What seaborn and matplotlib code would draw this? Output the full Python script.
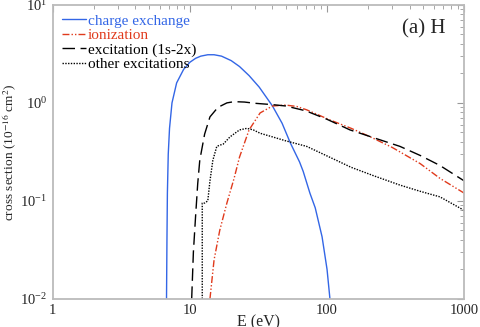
import numpy as np
import pandas as pd
import matplotlib
matplotlib.use("Agg")
import matplotlib.pyplot as plt
import seaborn as sns

# charge exchange
cx_E = [6.75, 6.8, 6.85, 6.95, 7.1, 7.4, 8.0, 9.0, 10.0, 11.0, 12.0, 13.5, 15.0, 17.0, 20.0, 23.0, 27.0, 32.0, 40.0, 47.0, 54.0, 63.0, 67.0, 75.0, 82.0, 92.0, 100.0, 105.0]
cx_s = [0.01, 0.04, 0.12, 0.3, 0.55, 1.0, 1.6, 2.2, 2.6, 2.85, 3.0, 3.1, 3.1, 3.0, 2.7, 2.35, 1.9, 1.45, 0.93, 0.62, 0.39, 0.25, 0.2, 0.12, 0.085, 0.043, 0.02, 0.01]
# ionization
io_E = [14.0, 15.0, 16.5, 18.6, 21.0, 23.0, 27.0, 32.5, 40.0, 50.0, 60.0, 71.0, 105.0, 150.0, 207.0, 300.0, 478.0, 665.0, 1000.0]
io_s = [0.01, 0.025, 0.05, 0.095, 0.17, 0.28, 0.53, 0.79, 0.93, 0.95, 0.92, 0.85, 0.67, 0.55, 0.45, 0.35, 0.24, 0.17, 0.12]
# excitation (1s-2x)
ex_E = [10.3, 10.6, 11.0, 11.4, 11.8, 12.8, 14.0, 16.0, 18.6, 21.0, 25.0, 30.0, 40.0, 50.0, 70.0, 100.0, 147.0, 220.0, 340.0, 480.0, 665.0, 1000.0]
ex_s = [0.01, 0.03, 0.07, 0.15, 0.26, 0.48, 0.72, 0.9, 1.0, 1.03, 1.02, 0.99, 0.96, 0.93, 0.83, 0.68, 0.53, 0.44, 0.36, 0.29, 0.23, 0.16]
# other excitations
ot_E = [12.3, 12.3, 12.8, 13.5, 14.0, 14.7, 15.7, 16.5, 17.5, 19.6, 23.0, 26.0, 29.0, 32.5, 40.0, 50.0, 71.0, 110.0, 150.0, 220.0, 340.0, 480.0, 665.0, 1000.0]
ot_s = [0.01, 0.095, 0.095, 0.1, 0.16, 0.26, 0.36, 0.37, 0.38, 0.45, 0.53, 0.55, 0.53, 0.49, 0.45, 0.41, 0.36, 0.27, 0.22, 0.18, 0.145, 0.125, 0.11, 0.08]

labels = ["charge exchange", "ionization", "excitation (1s-2x)", "other excitations"]
colors = ["#3366e6", "#e03a1c", "black", "black"]
dashes = ["-", (0, (5, 1.5, 1, 1.5, 1, 1.5)), (0, (9, 4)), (0, (1, 1))]

xtick_vals = [1, 10, 100, 1000]
xtick_text = ["1", "10", "100", "1000"]
ytick_vals = [0.01, 0.1, 1, 10]
ytick_text = [r"$\mathregular{10^{-2}}$", r"$\mathregular{10^{-1}}$", r"$\mathregular{10^{0}}$", r"$\mathregular{10^{1}}$"]

sns.set_theme(style="white")
SERIF = "Liberation Serif"
plt.rcParams["font.family"] = [SERIF]
plt.rcParams["mathtext.fontset"] = "stix"

fig = plt.figure(figsize=(4.8, 3.27), dpi=100)
ax = fig.add_axes([0.110, 0.086, 0.857, 0.899])

series = [(cx_E, cx_s), (io_E, io_s), (ex_E, ex_s), (ot_E, ot_s)]
for (E, s), lab, c, ls in zip(series, labels, colors, dashes):
    df = pd.DataFrame({"E": E, "s": s})
    sns.lineplot(data=df, x="E", y="s", ax=ax, color=c, linestyle=ls, lw=1.0,
                 label=lab, estimator=None, sort=False, legend=False)

ax.set_xscale("log")
ax.set_yscale("log")
ax.set_xlim(1, 1000)
ax.set_ylim(0.01, 10)
ax.set_xticks(xtick_vals)
ax.set_xticklabels(xtick_text)
ax.set_yticks(ytick_vals)
ax.set_yticklabels(ytick_text)
for t in ax.get_xticklabels() + ax.get_yticklabels():
    t.set_fontfamily(SERIF)
    t.set_fontsize(10.5)
ax.tick_params(which="both", direction="in", top=True, right=True, color="#999999", pad=4)
ax.tick_params(which="major", length=5, width=0.8)
ax.tick_params(which="minor", length=3, width=0.6)
for sp in ax.spines.values():
    sp.set_color("#bbbbbb")
    sp.set_linewidth(1.3)

ax.set_xlabel("E (eV)", fontsize=11.5, labelpad=-2, family=SERIF)
ax.set_ylabel(r"cross section (10$^{-16}$ cm$^{2}$)", fontsize=9.6, labelpad=0.5, family=SERIF)
ax.text(0.955, 0.92, "(a) H", transform=ax.transAxes, ha="right", va="center", fontsize=15, family=SERIF)

handles = ax.get_lines()
leg = ax.legend(handles, labels, loc="upper left", frameon=False, fontsize=11,
                handlelength=1.6, handletextpad=0.08, labelspacing=0.05, borderaxespad=0.3,
                borderpad=0.3)
for t, c in zip(leg.get_texts(), colors):
    t.set_fontfamily(SERIF)
    t.set_fontsize(11)
    t.set_color(c)
fig.savefig("out.png", dpi=100)
